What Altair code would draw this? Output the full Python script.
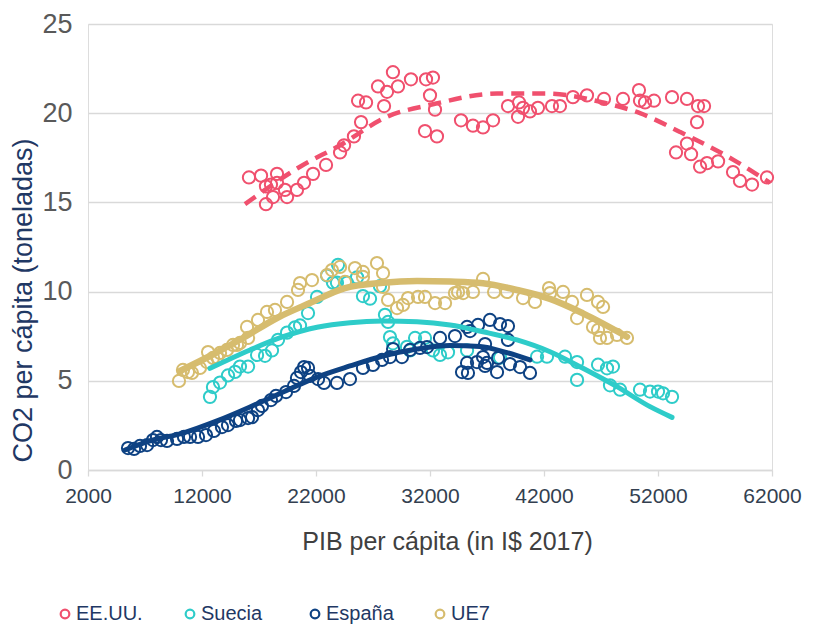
import altair as alt
import pandas as pd

countries = ["EE.UU.", "Suecia", "España", "UE7"]
colors = ["#F0506E", "#2ECCC9", "#0E4283", "#D6BC6E"]

# ---- scatter data (PIB per cápita, CO2 per cápita) ----
usa_gdp = [16120, 17180, 18580, 17610, 18050, 18580, 17610, 18230, 19280, 19460, 20330, 20950,
           21740, 22880, 24110, 24460, 25330, 25950, 25690, 26390, 27970, 27440, 28230, 28750,
           29190, 30330, 31650, 32260, 32000, 32440, 31560, 32610, 34720, 35770, 36650, 37530,
           38840, 39810, 39720, 40160, 40770, 41470, 42700, 43400, 44540, 45770, 47260, 48930,
           50330, 50420, 50860, 51650, 53230, 54540, 55510, 56040, 55420, 54540, 53580, 54900,
           55690, 56300, 57270, 58580, 59190, 60250, 61560]
usa_co2 = [16.4, 16.5, 16.6, 15.9, 16.0, 16.1, 14.9, 15.3, 15.7, 15.3, 15.7, 16.1,
           16.6, 17.1, 17.8, 18.2, 18.7, 19.5, 20.7, 20.6, 20.4, 21.5, 21.2, 22.3,
           21.5, 21.9, 21.9, 22.0, 21.0, 20.2, 19.0, 18.7, 19.6, 19.3, 19.2, 19.6,
           20.4, 20.6, 19.8, 20.3, 20.1, 20.3, 20.4, 20.4, 20.9, 21.0, 20.8, 20.8,
           21.3, 20.7, 20.6, 20.7, 20.9, 20.8, 20.4, 20.4, 19.5, 18.3, 17.8, 17.7,
           17.0, 17.2, 17.3, 16.7, 16.2, 16.0, 16.4]

swe_gdp = [12700, 12960, 13580, 14280, 14900, 15330, 16040, 16830, 17530, 18140, 18670, 19460,
           20160, 20600, 21300, 22090, 22970, 23490, 23930, 23840, 24720, 25600, 26120, 26740,
           27610, 28050, 28320, 28490, 28750, 29980, 30690, 31560, 30250, 32260, 32880, 33580,
           35250, 38140, 41390, 42260, 43840, 44900, 44900, 46740, 47530, 48050, 47790, 48670,
           50420, 51300, 52000, 52440, 53230]
swe_co2 = [4.1, 4.65, 4.9, 5.3, 5.5, 5.8, 5.8, 6.45, 6.4, 6.7, 7.3, 7.7,
           8.0, 8.1, 8.8, 9.7, 10.9, 10.5, 11.5, 10.5, 10.5, 10.8, 9.75, 9.6,
           10.3, 8.7, 8.3, 7.45, 7.1, 6.9, 7.4, 7.4, 6.7, 6.7, 6.45, 6.6,
           6.7, 6.3, 6.35, 6.35, 6.35, 6.05, 5.05, 5.9, 5.7, 5.8, 4.75, 4.5,
           4.5, 4.4, 4.4, 4.3, 4.1]

esp_gdp = [5510, 6040, 6560, 7180, 7700, 8050, 8400, 8930, 9810, 10420, 10950, 11650,
           12350, 13050, 13750, 14280, 14980, 15330, 16040, 16390, 16910, 17260, 18050, 18490,
           19370, 20070, 20330, 20680, 20950, 21300, 21470, 22180, 22700, 23840, 24980, 26120,
           27000, 27790, 28490, 28760, 29540, 30250, 31120, 31740, 32880, 34190, 35250, 35510,
           36210, 37260, 38140, 38840, 38840, 36830, 36650, 37000, 34810, 35330, 35250, 36120,
           36830, 37880, 37970, 39020, 39900, 40770]
esp_co2 = [1.23, 1.18, 1.35, 1.40, 1.68, 1.85, 1.68, 1.63, 1.74, 1.85, 1.85, 1.85,
           1.96, 2.19, 2.41, 2.52, 2.75, 2.80, 2.91, 2.97, 3.36, 3.59, 3.92, 4.15,
           4.37, 4.71, 5.16, 5.49, 5.77, 5.72, 5.27, 5.10, 4.88, 4.88, 5.10, 5.72,
           5.89, 6.17, 6.33, 6.78, 6.33, 6.73, 6.84, 6.89, 7.40, 7.51, 8.02, 7.79,
           8.13, 8.41, 8.18, 8.07, 7.29, 7.06, 6.33, 6.00, 5.49, 5.44, 6.00, 6.05,
           5.83, 5.49, 6.28, 5.94, 5.77, 5.44]

ue7_gdp = [9980, 10330, 10770, 11120, 11820, 12440, 12530, 12970, 13320, 13580, 14190, 14720,
           15070, 15330, 15950, 16040, 16910, 17700, 18400, 19460, 20420, 20600, 21650, 22970,
           23400, 24110, 24540, 25420, 26120, 26120, 27350, 27880, 27880, 28320, 29110, 29630,
           30070, 30950, 31560, 32440, 33320, 34190, 34460, 34900, 35770, 36650, 37620, 38760,
           40160, 41210, 42440, 42530, 43670, 44460, 45770, 44900, 46740, 47180, 46300, 46740,
           46910, 47530, 48400, 49280]
ue7_co2 = [4.99, 5.61, 5.49, 5.44, 5.72, 6.05, 6.61, 6.28, 6.33, 6.56, 6.73, 7.01,
           7.01, 7.12, 8.02, 7.40, 8.41, 8.86, 8.97, 9.42, 10.09, 10.48, 10.65, 10.93,
           11.21, 11.38, 10.54, 11.32, 11.10, 10.82, 11.60, 11.04, 10.26, 9.53, 9.08, 9.25,
           9.64, 9.70, 9.70, 9.36, 9.36, 9.92, 9.98, 9.92, 9.98, 10.71, 9.98, 9.98,
           9.64, 9.42, 10.20, 9.92, 9.98, 9.42, 9.81, 8.52, 9.42, 9.14, 8.02, 7.85,
           7.40, 7.40, 7.57, 7.40]

# ---- trend lines ----
usa_trend_gdp = [15770, 20600, 24100, 28230, 32260, 37880, 42260, 47180, 50420, 53930, 58580, 61830]
usa_trend_co2 = [14.9, 17.0, 18.2, 19.8, 20.5, 21.1, 21.1, 20.6, 20.0, 18.95, 17.4, 16.1]

swe_trend_gdp = [12700, 16210, 19110, 22090, 24980, 27880, 30860, 33760, 36650, 39630, 42530,
                 45420, 48400, 51300, 53230]
swe_trend_co2 = [5.7, 6.73, 7.47, 8.0, 8.26, 8.35, 8.31, 8.13, 7.75, 7.29, 6.63,
                 5.7, 4.67, 3.55, 2.95]

esp_trend_gdp = [5250, 7440, 10330, 13320, 16210, 19110, 22090, 24980, 27880, 30860, 33760,
                 36390, 38580, 40770]
esp_trend_co2 = [1.12, 1.63, 2.07, 2.75, 3.53, 4.37, 5.21, 5.83, 6.39, 6.78, 6.98,
                 6.92, 6.61, 6.17]

ue7_trend_gdp = [10070, 12700, 15600, 18580, 21470, 24540, 27880, 30860, 33760, 36650, 39630,
                 42530, 45420, 49280]
ue7_trend_co2 = [5.55, 6.39, 7.40, 8.52, 9.36, 10.2, 10.5, 10.59, 10.56, 10.47, 10.09,
                 9.59, 8.78, 7.47]

x_ticks = [2000, 12000, 22000, 32000, 42000, 52000, 62000]
y_ticks = [0, 5, 10, 15, 20, 25]

frames, tframes = [], []
for name, gx, gy in [("EE.UU.", usa_gdp, usa_co2), ("Suecia", swe_gdp, swe_co2),
                     ("España", esp_gdp, esp_co2), ("UE7", ue7_gdp, ue7_co2)]:
    frames.append(pd.DataFrame({"pib": gx, "co2": gy, "pais": name}))
df = pd.concat(frames, ignore_index=True)

for name, gx, gy in [("EE.UU.", usa_trend_gdp, usa_trend_co2), ("Suecia", swe_trend_gdp, swe_trend_co2),
                     ("España", esp_trend_gdp, esp_trend_co2), ("UE7", ue7_trend_gdp, ue7_trend_co2)]:
    tframes.append(pd.DataFrame({"pib": gx, "co2": gy, "pais": name}))
tdf = pd.concat(tframes, ignore_index=True)

FONT = "Liberation Sans"
color_scale = alt.Scale(domain=countries, range=colors)

x_enc = alt.X("pib:Q", scale=alt.Scale(domain=[2000, 62000], nice=False, zero=False),
              axis=alt.Axis(values=x_ticks, format="d", grid=False, labelFlush=False,
                            domain=True, domainColor="#D9D9D9", domainWidth=1.3,
                            ticks=True, tickColor="#D9D9D9", tickSize=6, tickWidth=1.3,
                            labelPadding=9, labelFontSize=21, labelColor="#333F50",
                            labelFont=FONT, title="PIB per cápita (in I$ 2017)",
                            titleFont=FONT, titleFontSize=25, titleFontWeight="normal",
                            titleColor="#404040", titleX=359, titleY=71,
                            titleAlign="center", titleBaseline="middle"))
y_enc = alt.Y("co2:Q", scale=alt.Scale(domain=[0, 25], nice=False),
              axis=alt.Axis(values=y_ticks, grid=True, gridColor="#D9D9D9", gridWidth=1.3,
                            domain=False, ticks=False, labelPadding=16, labelFontSize=27,
                            labelColor="#595959", labelFont=FONT,
                            title="CO2 per cápita (toneladas)", titleFont=FONT,
                            titleFontSize=27, titleFontWeight="normal", titleColor="#1F3864",
                            titleAngle=270, titleX=-57, titleY=276, titleAlign="center",
                            titleBaseline="alphabetic"))

points = alt.Chart(df).mark_point(shape="circle", filled=False, size=150, strokeWidth=2,
                                  opacity=1).encode(
    x=x_enc, y=y_enc,
    color=alt.Color("pais:N", scale=color_scale, sort=countries,
                    legend=alt.Legend(orient="none", legendX=-33, legendY=580,
                                      direction="horizontal", columns=4, title=None,
                                      labelFont=FONT, labelFontSize=20, labelColor="#1F3864",
                                      symbolType="circle", symbolSize=75, symbolStrokeWidth=2.2,
                                      symbolFillColor="white", labelOffset=1,
                                      gridAlign="all", columnPadding=36)),
)

solid_thin = alt.Chart(tdf).transform_filter(
    (alt.datum.pais == "Suecia") | (alt.datum.pais == "España")
).mark_line(strokeWidth=5, strokeCap="round", interpolate="monotone").encode(
    x="pib:Q", y="co2:Q",
    color=alt.Color("pais:N", scale=color_scale, legend=None),
)

solid_thick = alt.Chart(tdf).transform_filter(alt.datum.pais == "UE7").mark_line(
    strokeWidth=6.5, strokeCap="round", interpolate="monotone"
).encode(
    x="pib:Q", y="co2:Q",
    color=alt.Color("pais:N", scale=color_scale, legend=None),
)

dashed = alt.Chart(tdf).transform_filter(alt.datum.pais == "EE.UU.").mark_line(
    strokeWidth=4.5, strokeDash=[13, 8], interpolate="monotone"
).encode(
    x="pib:Q", y="co2:Q",
    color=alt.Color("pais:N", scale=color_scale, legend=None),
)

chart = alt.layer(points, solid_thin, solid_thick, dashed).properties(
    width=684, height=446,
    autosize=alt.AutoSizeParams(type="none"),
    padding={"left": 80, "top": 16, "right": 30, "bottom": 156},
).configure_view(stroke=None).configure(font=FONT)

chart.save("out.html", embed_options={"renderer": "svg", "actions": False})
